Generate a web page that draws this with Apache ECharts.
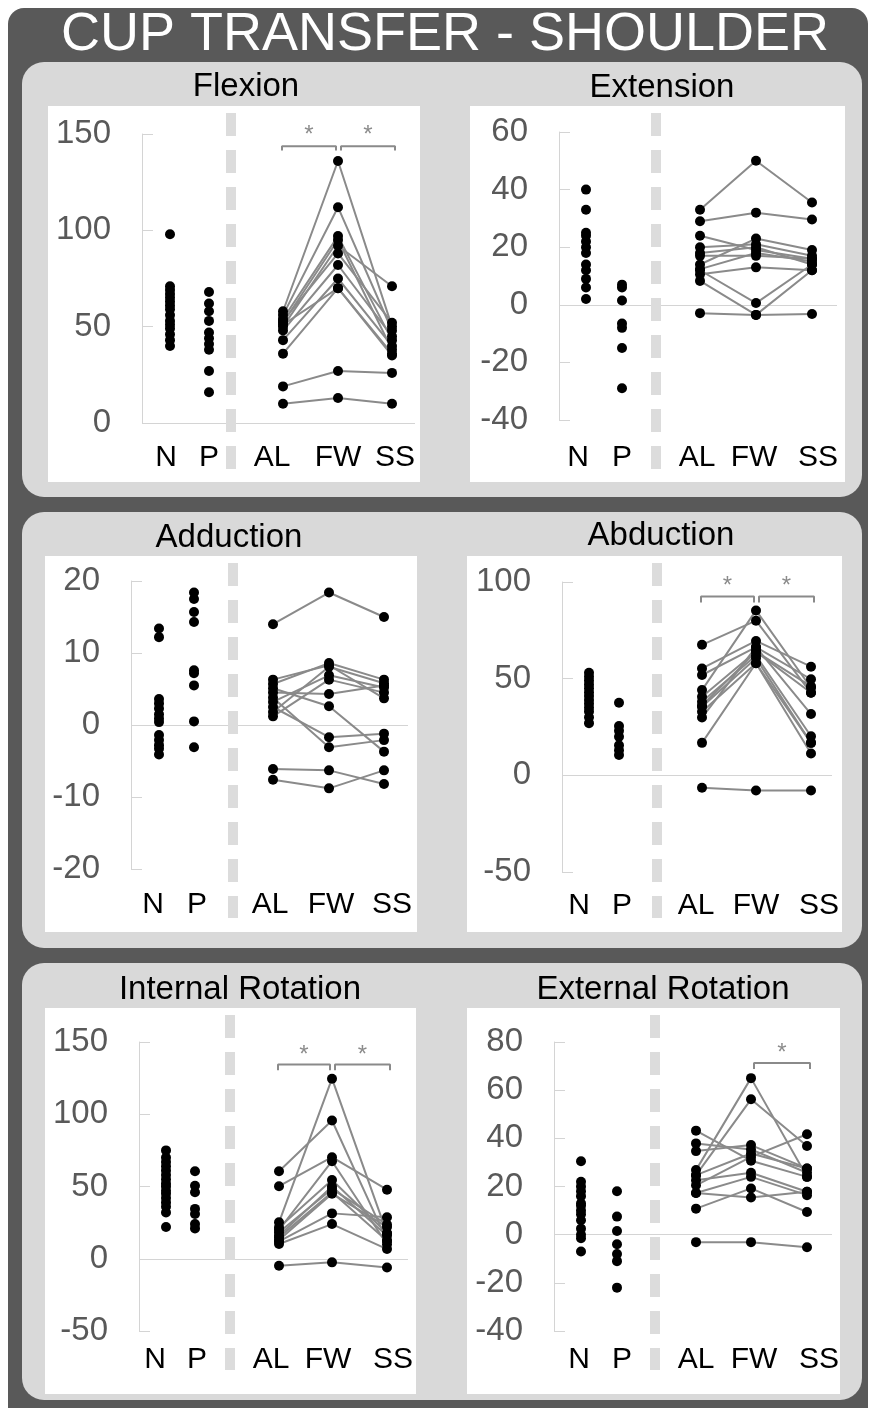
<!DOCTYPE html>
<html><head><meta charset="utf-8">
<script src="https://cdn.jsdelivr.net/npm/echarts@6/dist/echarts.min.js"></script>
<style>
html,body{margin:0;padding:0;background:#fff;}
#wrap{position:relative;width:872px;height:1408px;overflow:hidden;}
.bg{position:absolute;}
#c{position:absolute;left:0;top:0;width:872px;height:1408px;}
</style>
</head><body>
<div id="wrap">
<div class="bg" style="left:8px;top:8px;width:860px;height:1420px;background:#595959;border-radius:16px 16px 0 0;"></div>
<div class="bg" style="left:22px;top:62px;width:840px;height:435px;background:#d9d9d9;border-radius:22px;"></div>
<div class="bg" style="left:22px;top:512px;width:840px;height:436px;background:#d9d9d9;border-radius:22px;"></div>
<div class="bg" style="left:22px;top:963px;width:840px;height:437px;background:#d9d9d9;border-radius:22px;"></div>
<div class="bg" style="left:48px;top:106px;width:372px;height:376px;background:#fff;"></div>
<div class="bg" style="left:470px;top:106px;width:375px;height:376px;background:#fff;"></div>
<div class="bg" style="left:45px;top:556px;width:372px;height:376px;background:#fff;"></div>
<div class="bg" style="left:467px;top:556px;width:375px;height:376px;background:#fff;"></div>
<div class="bg" style="left:45px;top:1008px;width:371px;height:386px;background:#fff;"></div>
<div class="bg" style="left:467px;top:1008px;width:373px;height:386px;background:#fff;"></div>
<div id="c"></div>
</div>
<script>
// ---------------- DATA ----------------
const mainTitle = 'CUP TRANSFER - SHOULDER';
const panelNames = ['Flexion', 'Extension', 'Adduction', 'Abduction', 'Internal Rotation', 'External Rotation'];
const groupCats = ['N', 'P'];
const pairCats = ['AL', 'FW', 'SS'];
const yMin = [0, -40, -20, -50, -50, -40];
const yMax = [150, 60, 20, 100, 150, 80];
const yStep = [50, 20, 10, 50, 50, 20];

// Flexion
const flexN = [98, 71, 69, 67, 65, 63, 61, 59, 56, 53, 51, 49, 46, 43, 40];
const flexP = [68, 62, 58, 53, 47, 44, 41, 38, 27, 16];
const flexAL = [10, 19, 36, 43, 48, 50, 52, 54, 56, 58, 53, 51];
const flexFW = [13, 27, 70, 75, 82, 92, 95, 97, 112, 136, 88, 70];
const flexSS = [10, 26, 35, 40, 45, 71, 38, 43, 48, 50, 52, 36];
// Extension
const extN = [40, 33, 25, 24, 22, 20, 18, 14, 12, 9, 6, 2];
const extP = [7, 6, 1.5, -6.5, -8, -15, -29];
const extAL = [33, 29, 24, 20, 18, 14, 12.4, 10.6, 12, 8.3, -2.9, 17];
const extFW = [50, 32, 19, 21, 20, 23, 18, 13, 0.6, -3.5, -3.5, 17];
const extSS = [35.5, 29.6, 16, 17, 14, 19, 15, 12, 14, 12, -3.2, 16];
// Adduction
const addN = [13.4, 12.2, 3.6, 3.0, 2.3, 1.5, 0.9, 0.4, -1.4, -2.1, -2.8, -3.3, -4.1];
const addP = [18.4, 17.5, 15.7, 14.3, 7.6, 7.2, 5.5, 0.5, -3.1];
const addAL = [14, 5.7, 1.8, 3.2, 1.2, 6.3, 5.1, 2.5, 3.8, -6.1, -7.6, 4.5];
const addFW = [18.4, 8.6, 8.1, 6.9, 6.3, 8.3, 2.6, -1.7, -3.1, -6.3, -8.8, 4.3];
const addSS = [15, 6.3, 5.8, 5.2, 4.5, 3.7, -3.7, -1.2, -2.1, -8.2, -6.3, 5.5];
// Abduction
const abdN = [53, 51, 49, 47, 45, 43, 41, 39, 37, 35, 33, 30, 27];
const abdP = [37.5, 25.5, 23, 20, 15.5, 13, 10.5];
const abdAL = [67.5, 55.3, 51.9, 44.1, 40.6, 38.1, 35.5, 32.9, 29.9, 16.8, 36, -6.4];
const abdFW = [80, 69.5, 66.3, 85.3, 64, 62, 60.5, 58, 66.3, 58, 64, -7.8];
const abdSS = [42.7, 56.2, 49.7, 45.3, 42.7, 20.2, 16.8, 11.3, 31.7, 16.8, 46, -7.8];
// Internal Rotation
const irN = [75, 70, 67, 64, 61, 58, 55, 52, 50, 47, 45, 42, 39, 36, 32, 22];
const irP = [60.5, 50.5, 46, 34.5, 31, 24, 21];
const irAL = [60.6, 50.2, 25.2, 21.7, 18.3, 14.8, 12, 10.2, 20, 16, -4.9, 13];
const irFW = [95.7, 70.3, 124.6, 54.5, 48.3, 46, 31.4, 24, 67.5, 50, -2.5, 45];
const irSS = [12.5, 47.8, 17.6, 17.6, 23.6, 12.5, 28.7, 6.7, 10, 16, -6, 22];
// External Rotation
const erN = [30.5, 22, 20, 18, 16, 13, 12, 10, 8.5, 6, 2.5, 0, -1.5, -7];
const erP = [18, 7.5, 1.5, -4, -8, -11, -22];
const erAL = [43.2, 37.9, 34.7, 26.8, 24.7, 22.6, 20.5, 17.3, 17.3, 10.8, -3.1, 24.7];
const erFW = [30.7, 35.4, 37.2, 65, 56.2, 25.7, 32.3, 24, 15.4, 19.2, -3.1, 33.7];
const erSS = [24, 25.7, 27.5, 24, 36.8, 17.8, 41.7, 16.4, 17.8, 9.4, -5.2, 27.5];

// significance brackets: [from, to] pairs and bracket level (data units)
const sigPairs = [[['AL', 'FW'], ['FW', 'SS']], [], [], [['AL', 'FW'], ['FW', 'SS']], [['AL', 'FW'], ['FW', 'SS']], [['FW', 'SS']]];
const sigLevel = [143.7, 0, 0, 92.5, 134.5, 71.25];
const sigDrop = [2.2, 0, 0, 3.1, 4.1, 2.5];
const sigStar = [149.5, 0, 0, 97.6, 140.8, 75.4];

// ---------------- LAYOUT (pixels) ----------------
const layout = [
  {ax:142, top:134, bot:423, end:415, pos:[28,67,141,196,250], lab:[24,67,130,196,253], lm:20, sep:231, st:113, sb:470, tx:246, ty:87},
  {ax:559, top:132, bot:420, end:837, pos:[27,63,141,197,253], lab:[19,63,138,195,259], lm:23, sep:656, st:113, sb:470, tx:662, ty:88},
  {ax:131, top:581, bot:869, end:408, pos:[28,63,142,198,253], lab:[22,66,139,200,261], lm:21, sep:233, st:563, sb:918, tx:229, ty:538},
  {ax:562, top:582, bot:872, end:832, pos:[27,57,140,194,249], lab:[17,60,134,194,257], lm:19, sep:657, st:563, sb:918, tx:661, ty:536},
  {ax:139, top:1042, bot:1331, end:408, pos:[27,56,140,193,248], lab:[16,58,132,189,254], lm:14, sep:230, st:1015, sb:1370, tx:240, ty:990},
  {ax:554, top:1042, bot:1331, end:832, pos:[27,63,142,197,253], lab:[25,68,142,200,265], lm:14, sep:655, st:1015, sb:1370, tx:663, ty:990}
];

const panels = [
  {N: flexN, P: flexP, AL: flexAL, FW: flexFW, SS: flexSS},
  {N: extN, P: extP, AL: extAL, FW: extFW, SS: extSS},
  {N: addN, P: addP, AL: addAL, FW: addFW, SS: addSS},
  {N: abdN, P: abdP, AL: abdAL, FW: abdFW, SS: abdSS},
  {N: irN, P: irP, AL: irAL, FW: irFW, SS: irSS},
  {N: erN, P: erP, AL: erAL, FW: erFW, SS: erSS}
];

const FONT = '"Liberation Sans", Arial, sans-serif';
const allCats = groupCats.concat(pairCats);
const grids = [], xAxes = [], yAxes = [], series = [], graphics = [];
const DOT = {color:'#000', opacity:1};

graphics.push({type:'text', x:445, y:35, z:100, style:{text: mainTitle, fill:'#fff', font:'54px ' + FONT, textAlign:'center', textVerticalAlign:'middle'}});

panels.forEach((p, i) => {
  const L = layout[i];
  const w = L.end - L.ax;
  const posOf = c => L.pos[allCats.indexOf(c)];
  grids.push({left: L.ax, top: L.top, width: w, height: L.bot - L.top, containLabel: false});
  xAxes.push({
    type:'value', gridIndex:i, min:0, max:w,
    axisLine:{show:false, onZero:false}, axisTick:{show:false}, splitLine:{show:false},
    axisLabel:{
      show:true, customValues: L.lab, margin: L.lm, color:'#000', fontSize:30, fontFamily: FONT,
      formatter: v => { let best = 0, bd = 1e9; L.lab.forEach((lv, k) => { const d = Math.abs(lv - v); if (d < bd) { bd = d; best = k; } }); return allCats[best]; }
    }
  });
  yAxes.push({
    type:'value', gridIndex:i, min:yMin[i], max:yMax[i], interval:yStep[i],
    axisLine:{show:true, onZero:false, lineStyle:{color:'#d4d4d4', width:1}},
    axisTick:{show:true, inside:true, length:11, lineStyle:{color:'#d4d4d4', width:1}},
    splitLine:{show:false},
    axisLabel:{color:'#595959', fontSize:33, fontFamily: FONT, margin:31}
  });
  // group dots (N, P)
  groupCats.forEach((c, k) => {
    const s = {
      type:'scatter', xAxisIndex:i, yAxisIndex:i, symbol:'circle', symbolSize:10,
      itemStyle:DOT, z:5, silent:true,
      data: p[c].map(v => [posOf(c), v])
    };
    if (k === 0) {
      s.markLine = {silent:true, symbol:['none','none'], label:{show:false},
        lineStyle:{color:'#d4d4d4', width:1, type:'solid', opacity:1}, data:[{yAxis:0}], z:1};
    }
    series.push(s);
  });
  // paired lines
  p.AL.forEach((v, j) => {
    series.push({
      type:'line', xAxisIndex:i, yAxisIndex:i, symbol:'none', silent:true, z:3,
      lineStyle:{color:'#8a8a8a', width:2, opacity:1},
      data: pairCats.map(c => [posOf(c), p[c][j]])
    });
  });
  // paired dots
  const pts = [];
  pairCats.forEach(c => p[c].forEach(v => pts.push([posOf(c), v])));
  series.push({type:'scatter', xAxisIndex:i, yAxisIndex:i, symbol:'circle', symbolSize:10,
    itemStyle:DOT, z:6, silent:true, data: pts});
  // significance brackets
  sigPairs[i].forEach(pr => {
    const x1 = posOf(pr[0]) + (pr[0] === 'AL' ? -1 : 3);
    const x2 = posOf(pr[1]) + (pr[1] === 'FW' ? -2 : 3);
    const lv = sigLevel[i], lo = lv - sigDrop[i];
    series.push({type:'line', xAxisIndex:i, yAxisIndex:i, symbol:'none', silent:true, z:4,
      lineStyle:{color:'#8a8a8a', width:2, opacity:1},
      data:[[x1, lo], [x1, lv], [x2, lv], [x2, lo]]});
    series.push({type:'scatter', xAxisIndex:i, yAxisIndex:i, symbolSize:1, silent:true, z:4,
      itemStyle:{color:'rgba(0,0,0,0)'},
      label:{show:true, position:'inside', formatter:'*', color:'#6e6e6e', fontSize:24, fontFamily: FONT},
      data:[[(x1 + x2) / 2, sigStar[i]]]});
  });
  // separator and title
  graphics.push({type:'line', z:100, shape:{x1:L.sep, y1:L.st, x2:L.sep, y2:L.sb},
    style:{stroke:'#dcdcdc', lineWidth:10, lineDash:[23,14]}});
  graphics.push({type:'text', x:L.tx, y:L.ty, z:100,
    style:{text: panelNames[i], fill:'#000', font:'33px ' + FONT, textAlign:'center', textVerticalAlign:'middle'}});
});

const chart = echarts.init(document.getElementById('c'), null, {renderer:'canvas'});
chart.setOption({
  animation:false,
  backgroundColor:'transparent',
  grid: grids, xAxis: xAxes, yAxis: yAxes, series: series,
  graphic: {elements: graphics}
});
</script>
</body></html>
